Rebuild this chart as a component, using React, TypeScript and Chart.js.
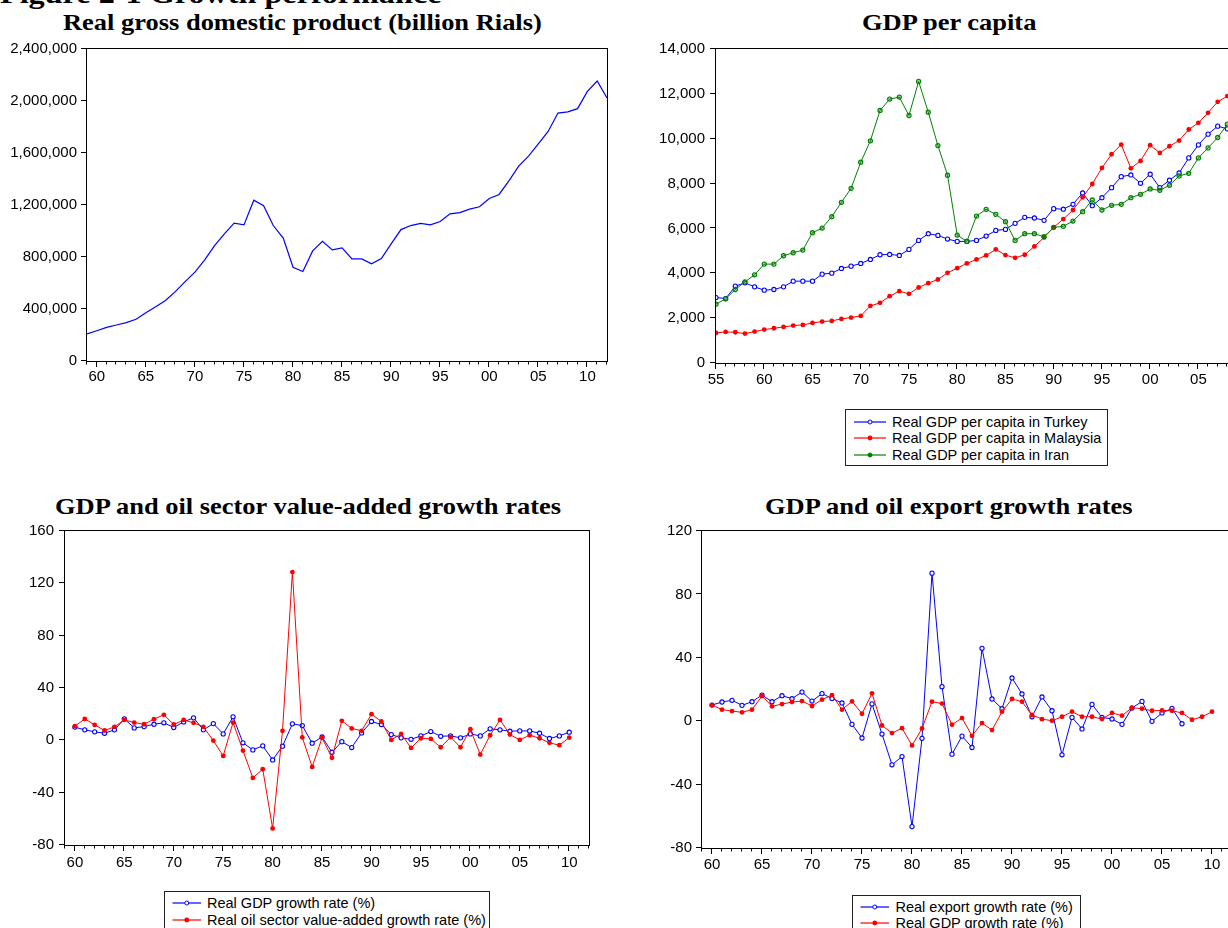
import React, { useEffect, useRef } from 'react';
import { Chart, registerables } from 'chart.js';

Chart.register(...registerables);

// ---------------- data ----------------
const yearsA = [1959, 1960, 1961, 1962, 1963, 1964, 1965, 1966, 1967, 1968, 1969, 1970, 1971, 1972, 1973, 1974, 1975, 1976, 1977, 1978, 1979, 1980, 1981, 1982, 1983, 1984, 1985, 1986, 1987, 1988, 1989, 1990, 1991, 1992, 1993, 1994, 1995, 1996, 1997, 1998, 1999, 2000, 2001, 2002, 2003, 2004, 2005, 2006, 2007, 2008, 2009, 2010, 2011, 2012];
const yearsB = [1955, 1956, 1957, 1958, 1959, 1960, 1961, 1962, 1963, 1964, 1965, 1966, 1967, 1968, 1969, 1970, 1971, 1972, 1973, 1974, 1975, 1976, 1977, 1978, 1979, 1980, 1981, 1982, 1983, 1984, 1985, 1986, 1987, 1988, 1989, 1990, 1991, 1992, 1993, 1994, 1995, 1996, 1997, 1998, 1999, 2000, 2001, 2002, 2003, 2004, 2005, 2006, 2007, 2008, 2009];

const gdpYears = [1959, 1960, 1961, 1962, 1963, 1964, 1965, 1966, 1967, 1968, 1969, 1970, 1971, 1972, 1973, 1974, 1975, 1976, 1977, 1978, 1979, 1980, 1981, 1982, 1983, 1984, 1985, 1986, 1987, 1988, 1989, 1990, 1991, 1992, 1993, 1994, 1995, 1996, 1997, 1998, 1999, 2000, 2001, 2002, 2003, 2004, 2005, 2006, 2007, 2008, 2009, 2010, 2011, 2012];
const realGdp = [208000, 233000, 259000, 277000, 295000, 321000, 372000, 418000, 465000, 534000, 611000, 683000, 778000, 888000, 978000, 1060000, 1047000, 1237000, 1194000, 1040000, 945000, 721000, 688000, 847000, 921000, 855000, 870000, 785000, 785000, 747000, 788000, 901000, 1011000, 1042000, 1058000, 1047000, 1073000, 1132000, 1142000, 1168000, 1186000, 1250000, 1281000, 1386000, 1499000, 1576000, 1671000, 1766000, 1907000, 1917000, 1941000, 2074000, 2154000, 2023000];

const pcYears = [1955, 1956, 1957, 1958, 1959, 1960, 1961, 1962, 1963, 1964, 1965, 1966, 1967, 1968, 1969, 1970, 1971, 1972, 1973, 1974, 1975, 1976, 1977, 1978, 1979, 1980, 1981, 1982, 1983, 1984, 1985, 1986, 1987, 1988, 1989, 1990, 1991, 1992, 1993, 1994, 1995, 1996, 1997, 1998, 1999, 2000, 2001, 2002, 2003, 2004, 2005, 2006, 2007, 2008];
const turkeyPc = [2919, 2874, 3426, 3574, 3396, 3247, 3277, 3396, 3649, 3649, 3649, 3962, 4006, 4215, 4319, 4438, 4617, 4826, 4840, 4796, 5064, 5466, 5764, 5689, 5526, 5421, 5421, 5466, 5660, 5913, 5957, 6226, 6494, 6464, 6360, 6881, 6857, 7075, 7580, 7013, 7371, 7818, 8309, 8385, 8013, 8415, 7818, 8147, 8474, 9144, 9725, 10203, 10560, 10440];
const malaysiaPc = [1340, 1385, 1370, 1311, 1400, 1489, 1549, 1609, 1668, 1698, 1787, 1847, 1877, 1966, 2026, 2100, 2547, 2681, 2979, 3202, 3083, 3366, 3560, 3723, 4021, 4230, 4438, 4617, 4796, 5064, 4811, 4691, 4826, 5198, 5600, 6047, 6419, 6821, 7387, 7982, 8697, 9308, 9740, 8682, 9010, 9710, 9368, 9665, 9918, 10410, 10708, 11155, 11646, 11900];
const iranPc = [2621, 2860, 3277, 3619, 3932, 4409, 4409, 4781, 4915, 5034, 5809, 6017, 6523, 7164, 7789, 8951, 9904, 11260, 11766, 11855, 11036, 12555, 11185, 9696, 8370, 5704, 5421, 6553, 6851, 6628, 6300, 5466, 5764, 5764, 5630, 6047, 6093, 6330, 6746, 7268, 6821, 7031, 7075, 7371, 7522, 7760, 7701, 7924, 8340, 8459, 9144, 9591, 10054, 10649];

const growthYears = [1960, 1961, 1962, 1963, 1964, 1965, 1966, 1967, 1968, 1969, 1970, 1971, 1972, 1973, 1974, 1975, 1976, 1977, 1978, 1979, 1980, 1981, 1982, 1983, 1984, 1985, 1986, 1987, 1988, 1989, 1990, 1991, 1992, 1993, 1994, 1995, 1996, 1997, 1998, 1999, 2000, 2001, 2002, 2003, 2004, 2005, 2006, 2007, 2008, 2009, 2010];
const gdpGrowthA = [10.1, 8.0, 6.5, 5.4, 8.0, 16.4, 9.5, 10.5, 12.3, 13.4, 9.8, 14.1, 17.2, 8.0, 12.8, 4.9, 18.0, -1.9, -7.3, -4.2, -15.0, -4.5, 12.6, 11.3, -2.2, 2.6, -9.1, -1.0, -5.5, 5.7, 14.4, 12.1, 4.4, 1.9, 0.8, 3.4, 6.7, 3.1, 3.4, 1.9, 4.9, 3.4, 8.8, 8.0, 7.0, 7.2, 7.2, 5.4, 1.4, 3.4, 6.2];
const oilGrowth = [10.8, 16.4, 11.8, 7.5, 10.3, 15.6, 13.6, 12.3, 16.2, 19.5, 12.1, 15.6, 13.4, 10.3, -0.2, -11.9, 13.6, -7.8, -28.7, -22.1, -67.3, 7.3, 128.6, 2.2, -20.3, 1.9, -13.4, 14.9, 9.1, 7.3, 20.0, 14.4, 0.3, 4.9, -5.8, 1.6, 1.1, -5.3, 2.4, -5.3, 8.5, -10.9, 3.9, 15.6, 4.4, 0.3, 3.9, 1.6, -1.9, -3.7, 2.1];

const exportYears = [1960, 1961, 1962, 1963, 1964, 1965, 1966, 1967, 1968, 1969, 1970, 1971, 1972, 1973, 1974, 1975, 1976, 1977, 1978, 1979, 1980, 1981, 1982, 1983, 1984, 1985, 1986, 1987, 1988, 1989, 1990, 1991, 1992, 1993, 1994, 1995, 1996, 1997, 1998, 1999, 2000, 2001, 2002, 2003, 2004, 2005, 2006, 2007];
const exportGrowth = [10.2, 12.1, 13.2, 10.0, 12.3, 16.5, 12.3, 16.1, 14.2, 18.4, 12.7, 17.4, 14.4, 11.5, -2.0, -10.6, 10.9, -8.1, -27.5, -22.3, -66.5, -10.8, 93.4, 21.8, -20.8, -9.4, -16.6, 46.0, 14.0, 7.9, 27.3, 17.2, 2.8, 15.3, 6.6, -21.2, 2.4, -4.9, 10.6, 2.4, 1.4, -2.0, 8.3, 12.5, -0.1, 5.2, 8.1, -1.6];
const gdpGrowthB = [10.2, 7.3, 6.4, 5.6, 7.3, 15.9, 9.4, 10.8, 12.1, 12.7, 9.6, 13.6, 16.5, 7.3, 12.5, 4.7, 17.6, -2.7, -7.5, -4.4, -15.3, -4.6, 12.3, 11.1, -2.2, 2.0, -9.2, -1.2, -5.6, 6.0, 14.0, 12.3, 3.9, 1.3, 0.3, 2.8, 6.0, 2.8, 2.8, 1.4, 5.2, 3.5, 8.5, 7.9, 6.6, 6.8, 6.6, 5.2, 0.9, 2.8, 6.0];

const gdpTicks = [0, 400000, 800000, 1200000, 1600000, 2000000, 2400000];
const pcTicks = [0, 2000, 4000, 6000, 8000, 10000, 12000, 14000];
const growthTicksA = [-80, -40, 0, 40, 80, 120, 160];
const growthTicksB = [-80, -40, 0, 40, 80, 120];

const BLUE = '#0000ff';
const RED = '#ff0000';
const GREEN = '#008000';

// ---------------- helpers ----------------
type Kind = 'none' | 'open' | 'filled' | 'green';

function series(years: number[], values: number[], color: string, kind: Kind, order: number, lw = 1) {
  return {
    data: years.map((x, i) => ({ x, y: values[i] })),
    borderColor: color,
    borderWidth: lw,
    pointRadius: kind === 'none' ? 0 : kind === 'filled' ? 2.4 : 2.1,
    pointBorderWidth: kind === 'filled' ? 0 : 1.1,
    pointBackgroundColor: kind === 'open' ? '#ffffff' : kind === 'green' ? 'rgba(0,128,0,0.35)' : color,
    pointBorderColor: color,
    pointHoverRadius: 0,
    tension: 0,
    fill: false,
    order,
  };
}

const frameAndTicks = {
  id: 'frameAndTicks',
  beforeDatasetsDraw(chart: any) {
    const { ctx, chartArea: a } = chart;
    const xs = chart.scales.x;
    const ys = chart.scales.y;
    ctx.save();
    ctx.strokeStyle = '#000';
    ctx.lineWidth = 1;
    ctx.strokeRect(a.left - 0.5, a.top - 0.5, a.right - a.left + 1, a.bottom - a.top + 1);
    ctx.beginPath();
    xs.ticks.forEach((t: any) => {
      const px = Math.round(xs.getPixelForValue(t.value)) - 0.5;
      const len = t.value % 5 === 0 ? 6 : 3.5;
      ctx.moveTo(px, a.bottom);
      ctx.lineTo(px, a.bottom + len);
    });
    ys.ticks.forEach((t: any) => {
      const py = Math.round(ys.getPixelForValue(t.value)) - 0.5;
      ctx.moveTo(a.left - 6, py);
      ctx.lineTo(a.left, py);
    });
    ctx.stroke();
    ctx.restore();
  },
};

type PanelProps = {
  left: number; top: number; width: number; height: number;
  datasets: any[];
  xMin: number; xMax: number; xTicks: number[];
  yMin: number; yMax: number; yTicks: number[];
  yAxisWidth: number; padTop: number; padRight: number; padBottom: number;
  xLabelPad: number; yLabelPad: number; yComma: boolean;
};

function Panel(p: PanelProps) {
  const ref = useRef<HTMLCanvasElement>(null);
  useEffect(() => {
    const font = { family: '"Liberation Sans", Arial, sans-serif', size: 15 };
    const chart = new Chart(ref.current as HTMLCanvasElement, {
      type: 'line',
      data: { datasets: p.datasets },
      options: {
        animation: false,
        responsive: false,
        devicePixelRatio: 1,
        events: [],
        layout: { padding: { left: 0, top: p.padTop, right: p.padRight, bottom: p.padBottom } },
        plugins: { legend: { display: false }, tooltip: { enabled: false } },
        scales: {
          x: {
            type: 'linear',
            min: p.xMin,
            max: p.xMax,
            afterBuildTicks: (s: any) => { s.ticks = p.xTicks.map((v) => ({ value: v })); },
            afterFit: (s: any) => { s.height = 40; },
            grid: { display: false, drawTicks: false },
            border: { display: false },
            ticks: {
              autoSkip: false, maxRotation: 0, minRotation: 0,
              padding: p.xLabelPad, color: '#000', font,
              callback: (v: any) => (Number(v) % 5 === 0 ? String(Number(v) % 100).padStart(2, '0') : ''),
            },
          },
          y: {
            type: 'linear',
            min: p.yMin,
            max: p.yMax,
            afterBuildTicks: (s: any) => { s.ticks = p.yTicks.map((v) => ({ value: v })); },
            afterFit: (s: any) => { s.width = p.yAxisWidth; },
            grid: { display: false, drawTicks: false },
            border: { display: false },
            ticks: {
              padding: p.yLabelPad, color: '#000', font,
              callback: (v: any) => (p.yComma ? Number(v).toLocaleString('en-US') : String(v)),
            },
          },
        },
      } as any,
      plugins: [frameAndTicks],
    });
    return () => chart.destroy();
  }, []);
  return (
    <canvas
      ref={ref}
      width={p.width}
      height={p.height}
      style={{ position: 'absolute', left: p.left, top: p.top, width: p.width, height: p.height }}
    />
  );
}

type LegendRow = { label: string; color: string; kind: Kind };

function Legend(props: {
  left: number; top: number; width: number; height: number;
  rowCenters: number[]; sampleL: number; sampleR: number; textL: number; rows: LegendRow[];
}) {
  const { left, top, width, height, rowCenters, sampleL, sampleR, textL, rows } = props;
  const rowH = 16;
  return (
    <div style={{ position: 'absolute', left, top, width, height, border: '1px solid #222', boxSizing: 'border-box', background: '#fff' }}>
      {rows.map((r, i) => {
        const cy = rowCenters[i];
        const mid = (sampleL + sampleR) / 2;
        return (
          <React.Fragment key={i}>
            <svg style={{ position: 'absolute', left: 0, top: cy - 6 }} width={sampleR + 2} height={12}>
              <line x1={sampleL} y1={6} x2={sampleR} y2={6} stroke={r.color} strokeWidth={1.6} strokeOpacity={0.75} />
              <circle
                cx={mid}
                cy={6}
                r={r.kind === 'filled' ? 2.4 : 2}
                fill={r.kind === 'open' ? '#fff' : r.color}
                stroke={r.color}
                strokeWidth={r.kind === 'filled' ? 0 : 1}
              />
            </svg>
            <div
              style={{
                position: 'absolute', left: textL, top: cy - rowH / 2, height: rowH, lineHeight: rowH + 'px',
                fontFamily: '"Liberation Sans", Arial, sans-serif', fontSize: 14.5, color: '#000', whiteSpace: 'nowrap',
              }}
            >
              {r.label}
            </div>
          </React.Fragment>
        );
      })}
    </div>
  );
}

function Title(props: { text: string; left: number; top: number; size: number; scale?: number }) {
  const { text, left, top, size, scale = 1.15 } = props;
  return (
    <div
      style={{
        position: 'absolute', left, top, fontFamily: '"Liberation Serif", "Times New Roman", serif',
        fontWeight: 'bold', fontSize: size, lineHeight: size + 'px', whiteSpace: 'nowrap', color: '#000',
        transform: `scaleX(${scale})`, transformOrigin: '0 0',
      }}
    >
      {text}
    </div>
  );
}

export default function App() {
  return (
    <div style={{ position: 'absolute', left: 0, top: 0, width: 1228, height: 928, overflow: 'hidden', background: '#fff' }}>
      <Title text="Figure 2-1 Growth performance" left={0} top={-20.5} size={28} />
      <Title text="Real gross domestic product (billion Rials)" left={63} top={11.4} size={23} />
      <Title text="GDP per capita" left={862} top={11.4} size={23} />
      <Title text="GDP and oil sector value-added growth rates" left={55} top={494.7} size={23} />
      <Title text="GDP and oil export growth rates" left={765} top={494.7} size={23} />

      <Panel
        left={0} top={0} width={640} height={480}
        datasets={[series(gdpYears, realGdp, BLUE, 'none', 1, 1.2)]}
        xMin={1959} xMax={2012} xTicks={yearsA}
        yMin={0} yMax={2400000} yTicks={gdpTicks}
        yAxisWidth={87} padTop={49} padRight={33} padBottom={79}
        xLabelPad={7} yLabelPad={10} yComma={true}
      />
      <Panel
        left={640} top={0} width={640} height={480}
        datasets={[
          series(pcYears, turkeyPc, BLUE, 'open', 3),
          series(pcYears, malaysiaPc, RED, 'filled', 2),
          series(pcYears, iranPc, GREEN, 'green', 1),
        ]}
        xMin={1955} xMax={2009} xTicks={yearsB}
        yMin={0} yMax={14000} yTicks={pcTicks}
        yAxisWidth={76} padTop={49} padRight={43} padBottom={77}
        xLabelPad={8} yLabelPad={11} yComma={true}
      />
      <Panel
        left={0} top={480} width={640} height={448}
        datasets={[
          series(growthYears, gdpGrowthA, BLUE, 'open', 2),
          series(growthYears, oilGrowth, RED, 'filled', 1),
        ]}
        xMin={1959} xMax={2012} xTicks={yearsA}
        yMin={-80} yMax={160} yTicks={growthTicksA}
        yAxisWidth={65} padTop={51} padRight={51} padBottom={43}
        xLabelPad={9} yLabelPad={11} yComma={false}
      />
      <Panel
        left={640} top={480} width={640} height={448}
        datasets={[
          series(exportYears, exportGrowth, BLUE, 'open', 2),
          series(growthYears, gdpGrowthB, RED, 'filled', 1),
        ]}
        xMin={1959} xMax={2012} xTicks={yearsA}
        yMin={-80} yMax={120} yTicks={growthTicksB}
        yAxisWidth={62} padTop={51} padRight={48} padBottom={40}
        xLabelPad={8} yLabelPad={10} yComma={false}
      />

      <Legend
        left={845} top={409} width={263} height={57}
        rowCenters={[11.7, 28.3, 45]} sampleL={8} sampleR={40} textL={46}
        rows={[
          { label: 'Real GDP per capita in Turkey', color: BLUE, kind: 'open' },
          { label: 'Real GDP per capita in Malaysia', color: RED, kind: 'filled' },
          { label: 'Real GDP per capita in Iran', color: GREEN, kind: 'green' },
        ]}
      />
      <Legend
        left={164} top={891} width={326} height={60}
        rowCenters={[11, 28]} sampleL={7.5} sampleR={36} textL={42}
        rows={[
          { label: 'Real GDP growth rate (%)', color: BLUE, kind: 'open' },
          { label: 'Real oil sector value-added growth rate (%)', color: RED, kind: 'filled' },
        ]}
      />
      <Legend
        left={852} top={895} width={229} height={60}
        rowCenters={[11, 26.7]} sampleL={7.5} sampleR={36} textL={42.5}
        rows={[
          { label: 'Real export growth rate (%)', color: BLUE, kind: 'open' },
          { label: 'Real GDP growth rate (%)', color: RED, kind: 'filled' },
        ]}
      />
    </div>
  );
}
